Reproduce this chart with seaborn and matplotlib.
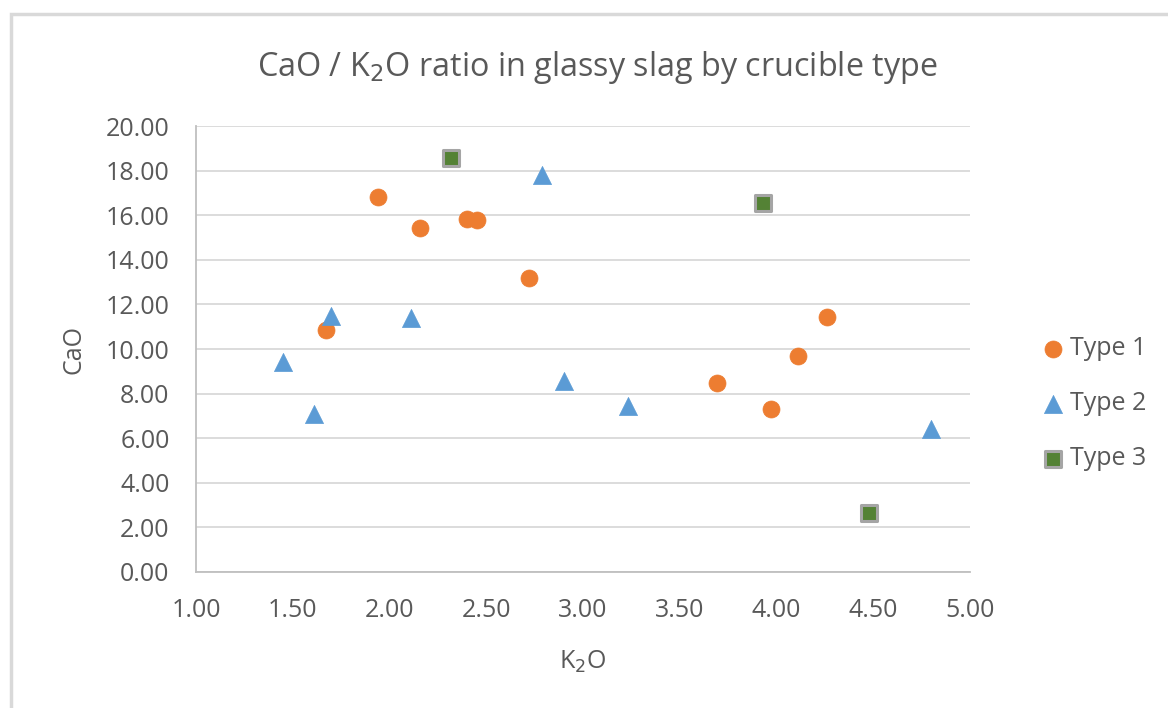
import matplotlib
matplotlib.use("Agg")
import matplotlib.pyplot as plt
import seaborn as sns
import pandas as pd
from matplotlib.patches import Rectangle

# Glassy slag composition (wt%) grouped by crucible type
type1_k2o = [1.67, 1.94, 2.16, 2.40, 2.45, 2.72, 3.69, 3.97, 4.11, 4.26]
type1_cao = [10.85, 16.80, 15.42, 15.83, 15.77, 13.18, 8.48, 7.31, 9.69, 11.43]

type2_k2o = [1.45, 1.61, 1.70, 2.11, 2.79, 2.90, 3.23, 4.80]
type2_cao = [9.40, 7.10, 11.50, 11.40, 17.80, 8.58, 7.45, 6.40]

type3_k2o = [2.32, 3.93, 4.48]
type3_cao = [18.55, 16.53, 2.65]

series_names = ["Type 1", "Type 2", "Type 3"]
x_ticks = [1.0, 1.5, 2.0, 2.5, 3.0, 3.5, 4.0, 4.5, 5.0]
y_ticks = [0, 2, 4, 6, 8, 10, 12, 14, 16, 18, 20]

df = pd.concat([
    pd.DataFrame({"K2O": type1_k2o, "CaO": type1_cao, "Type": series_names[0]}),
    pd.DataFrame({"K2O": type2_k2o, "CaO": type2_cao, "Type": series_names[1]}),
    pd.DataFrame({"K2O": type3_k2o, "CaO": type3_cao, "Type": series_names[2]}),
])

sns.set_theme(style="white")
plt.rcParams["font.family"] = ["Open Sans", "DejaVu Sans"]
text_color = "#595959"

fig = plt.figure(figsize=(11.68, 7.08), dpi=100)
ax = fig.add_axes([0.1678, 0.1921, 0.8305 - 0.1678, 0.822 - 0.1921])

# outer chart border
fig.patches.append(Rectangle((11 / 1168, -0.05), 1.2, 1 - 14 / 708 + 0.05,
                             transform=fig.transFigure, fill=False,
                             edgecolor="#d9d9d9", linewidth=2.5, zorder=0))

styles = {
    "Type 1": dict(marker="o", color="#ED7D31", edgecolor="#ED7D31", s=150, linewidth=0.5),
    "Type 2": dict(marker="^", color="#5B9BD5", edgecolor="#5B9BD5", s=170, linewidth=0.5),
    "Type 3": dict(marker="s", color="#548235", edgecolor="#A5A5A5", s=130, linewidth=2.2),
}
for name in series_names:
    sub = df[df["Type"] == name]
    sns.scatterplot(data=sub, x="K2O", y="CaO", ax=ax, label=name, zorder=3,
                    **styles[name])

ax.set_xlim(1.0, 5.0)
ax.set_ylim(0, 20)
ax.set_xticks(x_ticks)
ax.set_yticks(y_ticks)
ax.set_xticklabels([f"{v:.2f}" for v in x_ticks])
ax.set_yticklabels([f"{v:.2f}" for v in y_ticks])
ax.tick_params(axis="both", labelsize=18, colors=text_color, length=0)
ax.tick_params(axis="y", pad=19)
ax.tick_params(axis="x", pad=19)

ax.grid(axis="y", color="#d9d9d9", linewidth=1.3)
ax.set_axisbelow(True)
for side in ["top", "right"]:
    ax.spines[side].set_visible(False)
for side in ["left", "bottom"]:
    ax.spines[side].set_color("#bfbfbf")
    ax.spines[side].set_linewidth(1.3)

ax.set_xlabel("K$_2$O", fontsize=18, color=text_color, labelpad=18)
ax.set_ylabel("CaO", fontsize=18, color=text_color, labelpad=14)
ax.set_title("CaO / K$_2$O ratio in glassy slag by crucible type",
             fontsize=23.3, color=text_color, pad=36, x=0.518)

leg = ax.legend(loc="center left", bbox_to_anchor=(1.078, 0.377), frameon=False,
                fontsize=18, labelspacing=1.2, handlelength=1.0,
                handletextpad=0.2, borderaxespad=0, markerscale=1.0)
for t in leg.get_texts():
    t.set_color(text_color)

fig.savefig("out.png", dpi=100, facecolor="white")
